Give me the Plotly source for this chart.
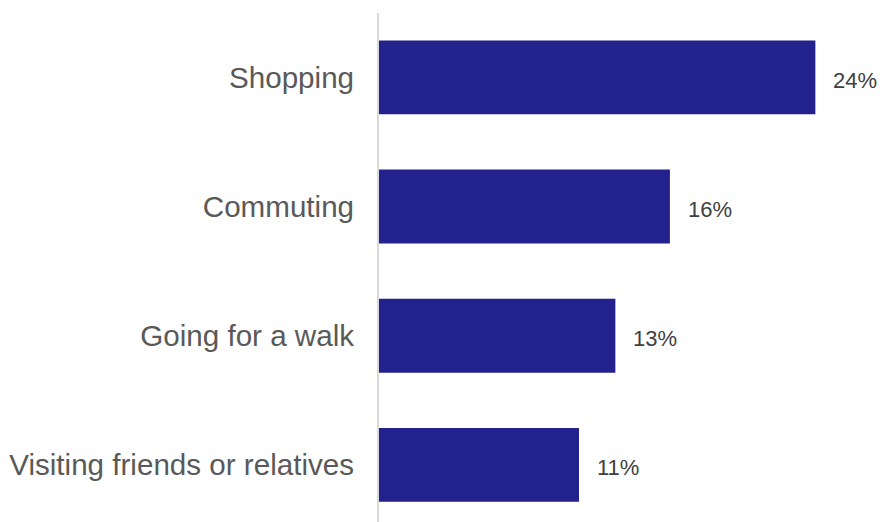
import plotly.graph_objects as go

# Share of trips by purpose (%), listed bottom to top
categories = ["Visiting friends or relatives", "Going for a walk", "Commuting", "Shopping"]
values = [11, 13, 16, 24]
value_labels = [f"{v}%" for v in values]

BAR_COLOR = "#22218E"
FONT = "Liberation Sans, Arial, sans-serif"

fig = go.Figure(
    go.Bar(
        x=values,
        y=categories,
        orientation="h",
        marker=dict(color=BAR_COLOR, line=dict(width=0)),
        width=0.572,
        hoverinfo="skip",
    )
)

# Value labels just right of each bar end
for cat, val, lab in zip(categories, values, value_labels):
    fig.add_annotation(
        x=val, y=cat, text=lab, showarrow=False,
        xanchor="left", yanchor="middle", xshift=16, yshift=-3,
        font=dict(family=FONT, size=22, color="#404040"),
    )

fig.update_layout(
    width=881, height=522,
    margin=dict(l=379, r=12, t=13, b=0),
    paper_bgcolor="white", plot_bgcolor="white",
    showlegend=False,
    xaxis=dict(range=[0, 26.95], visible=False, fixedrange=True),
    yaxis=dict(
        type="category",
        categoryorder="array", categoryarray=categories,
        range=[-0.442, 3.498],
        showline=True, linecolor="#D9D9D9", linewidth=2,
        showgrid=False, zeroline=False,
        ticks="", ticklabelstandoff=17,
        tickfont=dict(family=FONT, size=29.6, color="#595959"),
        fixedrange=True,
    ),
)

fig.write_html("out.html")
